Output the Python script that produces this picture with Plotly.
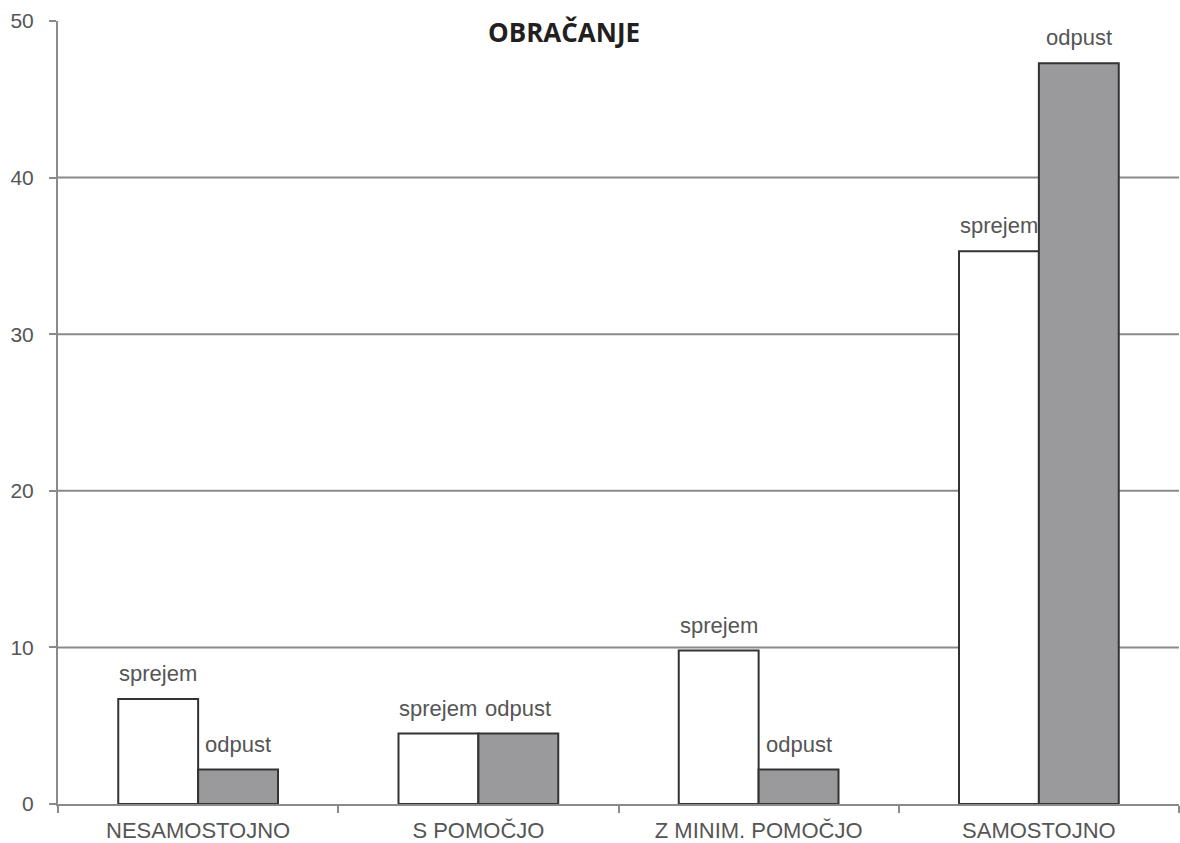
import plotly.graph_objects as go

categories = ["NESAMOSTOJNO", "S POMOČJO", "Z MINIM. POMOČJO", "SAMOSTOJNO"]
sprejem = [6.7, 4.5, 9.8, 35.3]
odpust = [2.2, 4.5, 2.2, 47.3]
y_ticks = [0, 10, 20, 30, 40, 50]
grid_values = [10, 20, 30, 40]

FONT = "Liberation Sans, Arial, sans-serif"
GREY_TEXT = "#555555"
AXIS_GREY = "#8a8a8a"

fig = go.Figure()
fig.add_trace(go.Bar(
    name="sprejem", x=categories, y=sprejem,
    marker=dict(color="#ffffff", line=dict(color="#333333", width=2)),
))
fig.add_trace(go.Bar(
    name="odpust", x=categories, y=odpust,
    marker=dict(color="#9a9a9c", line=dict(color="#333333", width=2)),
))

# horizontal grid lines (none at the top of the axis)
for v in grid_values:
    fig.add_shape(type="line", xref="paper", yref="y", x0=0, x1=1, y0=v, y1=v,
                  line=dict(color=AXIS_GREY, width=2), layer="below")

# series name written above each bar
bargap = 0.43
plot_w = 1180 - 58 - 1
half_bar = plot_w / len(categories) * (1 - bargap) / 4
annotations = []
for series_name, values, side in (("sprejem", sprejem, -1), ("odpust", odpust, 1)):
    for cat, val in zip(categories, values):
        annotations.append(dict(
            text=series_name, x=cat, y=val, xref="x", yref="y",
            xanchor="center", yanchor="bottom", xshift=side * half_bar, yshift=11,
            showarrow=False, font=dict(family=FONT, size=22, color=GREY_TEXT),
        ))
annotations.append(dict(
    text="<b>OBRAČANJE</b>", xref="paper", yref="paper", x=0.451, y=0.986,
    xanchor="center", yanchor="middle", showarrow=False,
    font=dict(family="Open Sans, sans-serif", size=26, color="#231f20"),
))

fig.update_layout(
    width=1180, height=843,
    margin=dict(l=58, r=1, t=21, b=39),
    paper_bgcolor="white", plot_bgcolor="white",
    barmode="group", bargap=bargap, bargroupgap=0,
    showlegend=False,
    font=dict(family=FONT, size=21, color=GREY_TEXT),
    annotations=annotations,
)
fig.update_xaxes(
    type="category", showgrid=False, showline=True, linecolor=AXIS_GREY, linewidth=2,
    ticks="outside", tickson="boundaries", ticklen=7, tickwidth=2, tickcolor=AXIS_GREY,
    tickfont=dict(family=FONT, size=22, color=GREY_TEXT), ticklabelstandoff=6,
)
fig.update_yaxes(
    range=[0, 50], tickvals=y_ticks, showgrid=False, zeroline=False,
    showline=True, linecolor=AXIS_GREY, linewidth=2,
    ticks="outside", ticklen=7, tickwidth=2, tickcolor=AXIS_GREY,
    tickfont=dict(family=FONT, size=21, color=GREY_TEXT), ticklabelstandoff=11,
)

fig.write_html("out.html")
